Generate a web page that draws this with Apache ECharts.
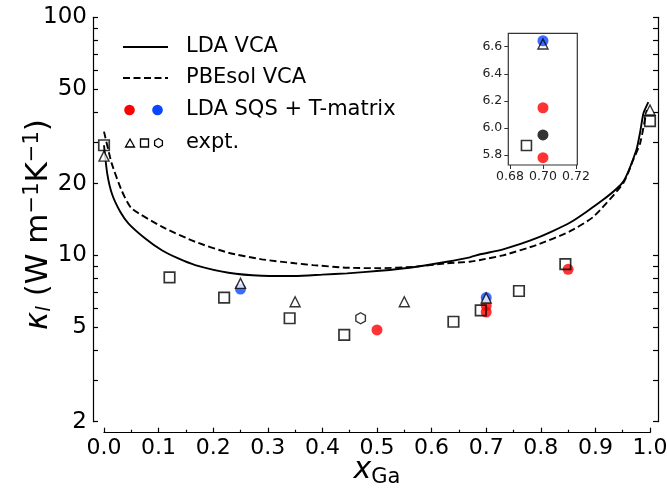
<!DOCTYPE html>
<html><head><meta charset="utf-8">
<script src="https://cdn.jsdelivr.net/npm/echarts@6/dist/echarts.min.js"></script>
<style>html,body{margin:0;padding:0;background:#fff}#c{width:667px;height:492px}</style>
</head><body><div id="c"></div>
<script>
// ---- data ----
const ldaVcaX = [0, 0.006, 0.015, 0.03, 0.045, 0.075, 0.106, 0.136, 0.167, 0.228, 0.289, 0.35, 0.40, 0.445, 0.505, 0.56, 0.628, 0.67, 0.689, 0.731, 0.792, 0.853, 0.914, 0.951, 0.975, 0.982, 0.988, 0.997];
const ldaVcaY = [29.0, 22.0, 18.0, 15.2, 13.6, 11.8, 10.5, 9.7, 9.1, 8.45, 8.21, 8.19, 8.3, 8.40, 8.61, 8.87, 9.40, 9.81, 10.1, 10.6, 11.8, 13.7, 17.1, 20.4, 27.7, 33.0, 39.5, 44.0];
const pbeVcaX = [0, 0.014, 0.032, 0.05, 0.106, 0.167, 0.228, 0.289, 0.35, 0.383, 0.445, 0.505, 0.567, 0.628, 0.67, 0.689, 0.731, 0.792, 0.853, 0.896, 0.951, 0.969, 0.982, 0.994];
const pbeVcaY = [33.1, 24.4, 18.8, 15.8, 13.2, 11.4, 10.25, 9.62, 9.26, 9.10, 8.87, 8.83, 8.95, 9.26, 9.40, 9.56, 10.0, 11.05, 12.6, 14.5, 20.1, 25.1, 29.6, 40.8];
const exptSquareX = [0.0, 0.12, 0.22, 0.34, 0.44, 0.64, 0.69, 0.76, 0.845, 1.0];
const exptSquareY = [29.0, 8.08, 6.64, 5.44, 4.63, 5.26, 5.87, 7.08, 9.19, 36.6];
const exptTriX = [0.0, 0.25, 0.35, 0.55, 0.70, 1.0];
const exptTriY = [26.1, 7.62, 6.38, 6.38, 6.62, 40.8];
const exptHexX = [0.47];
const exptHexY = [5.44];
const sqsRedX = [0.50, 0.70, 0.70, 0.85];
const sqsRedY = [4.86, 6.149, 5.78, 8.73];
const sqsBlueX = [0.25, 0.70];
const sqsBlueY = [7.22, 6.644];
const sqsBlackX = [0.70];       // shown in inset
const sqsBlackY = [5.948];
const yTickLabels = [2, 5, 10, 20, 50, 100];
const yTickMarks = [2, 3, 4, 5, 6, 7, 8, 9, 10, 20, 30, 40, 50, 60, 70, 80, 90, 100];
const insetXTicks = [0.68, 0.70, 0.72];
const insetYTicks = [5.8, 6.0, 6.2, 6.4, 6.6];

// ---- helpers ----
const zip = (xs, ys) => xs.map((x, i) => [x, ys[i]]);
const inInset = (xs, ys) => zip(xs, ys).filter(p => p[0] >= 0.679 && p[0] <= 0.7208 && p[1] >= 5.726 && p[1] <= 6.699);
const FONT = 'DejaVu Sans';
const HEX = 'path://M0,-1L0.866,-0.5L0.866,0.5L0,1L-0.866,0.5L-0.866,-0.5Z';
const RED = '#ff0000', BLUE = '#0a46ff';

const chart = echarts.init(document.getElementById('c'), null, {renderer: 'canvas'});

const tickStyle = {color: '#000', width: 1.2};
const logYDisplay = (pos, offset, labels) => ({
  type: 'value', gridIndex: 0, position: pos, offset: offset,
  min: Math.log10(yTickLabels[0]), max: Math.log10(yTickLabels[yTickLabels.length - 1]),
  axisLine: {show: true, lineStyle: {color: '#000', width: 1.2}},
  axisTick: {show: true, inside: true, length: 5, lineStyle: tickStyle, customValues: yTickMarks.map(Math.log10)},
  axisLabel: {show: labels, margin: 6, fontFamily: FONT, fontSize: 23, color: '#000',
    customValues: yTickLabels.map(Math.log10), formatter: v => String(Math.round(Math.pow(10, v)))},
  splitLine: {show: false},
  name: labels ? '{k|κ}{sub|l}{n| (W m}{sup|−1}{n|K}{sup|−1}{n|)}' : '',
  nameLocation: 'middle', nameGap: 38, nameMoveOverlap: false,
  nameTextStyle: {padding: [0, 10, 0, 0], rich: {
    k: {fontFamily: FONT, fontSize: 31, fontStyle: 'italic', color: '#000'},
    sub: {fontFamily: FONT, fontSize: 20, fontStyle: 'italic', color: '#000', verticalAlign: 'bottom', padding: [12, 0, 0, 0]},
    n: {fontFamily: FONT, fontSize: 31, color: '#000'},
    sup: {fontFamily: FONT, fontSize: 21, color: '#000', verticalAlign: 'top', padding: [0, 0, 12, 0]}
  }}
});

const option = {
  animation: false,
  backgroundColor: '#fff',
  grid: [
    {left: 104, right: 17, top: 17.3, bottom: 70.3, show: false, containLabel: false, outerBoundsMode: 'none'},
    {left: 508.3, right: 89.7, top: 33.3, bottom: 327, show: true, backgroundColor: '#fff', borderColor: '#333', borderWidth: 1.2, z: 5, containLabel: false, outerBoundsMode: 'none'}
  ],
  xAxis: [
    {type: 'value', gridIndex: 0, min: 0, max: 1, interval: 0.1, offset: 11,
     axisLine: {show: true, onZero: false, lineStyle: {color: '#000', width: 1.2}},
     axisTick: {show: true, inside: true, length: 5, lineStyle: tickStyle},
     minorTick: {show: true, splitNumber: 2, length: 3, lineStyle: tickStyle},
     axisLabel: {margin: 5, fontFamily: FONT, fontSize: 22, color: '#000', formatter: v => v.toFixed(1)},
     splitLine: {show: false},
     name: '{x|x}{sub|Ga}', nameLocation: 'middle', nameGap: 20, nameMoveOverlap: false,
     nameTextStyle: {rich: {
       x: {fontFamily: FONT, fontSize: 30, fontStyle: 'italic', color: '#000'},
       sub: {fontFamily: FONT, fontSize: 21, color: '#000', verticalAlign: 'bottom', padding: [14, 0, 0, 0]}
     }}},
    {type: 'value', gridIndex: 1, min: 0.679, max: 0.7208, z: 6,
     axisLine: {show: false},
     axisTick: {show: true, inside: false, length: 4, lineStyle: {color: '#333', width: 1}, customValues: insetXTicks},
     axisLabel: {margin: 5, fontFamily: FONT, fontSize: 12.5, color: '#222', customValues: insetXTicks, formatter: v => v.toFixed(2)},
     splitLine: {show: false}}
  ],
  yAxis: [
    {type: 'log', logBase: 10, gridIndex: 0, min: 2, max: 100, show: false},
    logYDisplay('left', 11, true),
    logYDisplay('right', 8, false),
    {type: 'value', gridIndex: 1, min: 5.726, max: 6.699, z: 6,
     axisLine: {show: false},
     axisTick: {show: true, inside: false, length: 4, lineStyle: {color: '#333', width: 1}, customValues: insetYTicks},
     axisLabel: {margin: 6, fontFamily: FONT, fontSize: 12.5, color: '#222', customValues: insetYTicks, formatter: v => v.toFixed(1)},
     splitLine: {show: false}}
  ],
  series: [
    {type: 'line', xAxisIndex: 0, yAxisIndex: 0, data: zip(ldaVcaX, ldaVcaY), showSymbol: false,
     smooth: 0.2, lineStyle: {color: '#000', width: 1.9}, z: 2},
    {type: 'line', xAxisIndex: 0, yAxisIndex: 0, data: zip(pbeVcaX, pbeVcaY), showSymbol: false,
     smooth: 0.2, lineStyle: {color: '#000', width: 1.9, type: [7, 3.5]}, z: 2},
    {type: 'scatter', xAxisIndex: 0, yAxisIndex: 0, data: zip(sqsRedX, sqsRedY), symbol: 'circle', symbolSize: 11,
     itemStyle: {color: RED}, z: 3},
    {type: 'scatter', xAxisIndex: 0, yAxisIndex: 0, data: zip(sqsBlueX, sqsBlueY), symbol: 'circle', symbolSize: 11,
     itemStyle: {color: BLUE}, z: 3},
    {type: 'scatter', xAxisIndex: 0, yAxisIndex: 0, data: zip(exptSquareX, exptSquareY), symbol: 'rect', symbolSize: 10.5,
     itemStyle: {color: 'rgba(0,0,0,0)', borderColor: '#000', borderWidth: 1.7}, z: 4},
    {type: 'scatter', xAxisIndex: 0, yAxisIndex: 0, data: zip(exptTriX, exptTriY), symbol: 'triangle', symbolSize: 10,
     itemStyle: {color: '#fff', borderColor: '#000', borderWidth: 1.4}, z: 4},
    {type: 'scatter', xAxisIndex: 0, yAxisIndex: 0, data: zip(exptHexX, exptHexY), symbol: HEX, symbolSize: 11, symbolKeepAspect: true,
     itemStyle: {color: 'rgba(0,0,0,0)', borderColor: '#000', borderWidth: 1.4}, z: 4},
    // inset
    {type: 'scatter', xAxisIndex: 1, yAxisIndex: 3, data: inInset(sqsRedX, sqsRedY), symbol: 'circle', symbolSize: 11,
     itemStyle: {color: RED}, z: 7},
    {type: 'scatter', xAxisIndex: 1, yAxisIndex: 3, data: inInset(sqsBlueX, sqsBlueY), symbol: 'circle', symbolSize: 11,
     itemStyle: {color: BLUE}, z: 7},
    {type: 'scatter', xAxisIndex: 1, yAxisIndex: 3, data: inInset(sqsBlackX, sqsBlackY), symbol: 'circle', symbolSize: 11,
     itemStyle: {color: '#000'}, z: 7},
    {type: 'scatter', xAxisIndex: 1, yAxisIndex: 3, data: inInset(exptSquareX, exptSquareY), symbol: 'rect', symbolSize: 10,
     itemStyle: {color: 'rgba(0,0,0,0)', borderColor: '#000', borderWidth: 1.6}, z: 8},
    {type: 'scatter', xAxisIndex: 1, yAxisIndex: 3, data: inInset(exptTriX, exptTriY), symbol: 'triangle', symbolSize: 10,
     itemStyle: {color: 'rgba(0,0,0,0)', borderColor: '#000', borderWidth: 1.4}, z: 8}
  ],
  graphic: [
    {type: 'line', shape: {x1: 123, y1: 47, x2: 168, y2: 47}, style: {stroke: '#000', lineWidth: 2}},
    {type: 'line', shape: {x1: 123, y1: 78, x2: 168, y2: 78}, style: {stroke: '#000', lineWidth: 2, lineDash: [7, 3.5]}},
    {type: 'circle', shape: {cx: 129.5, cy: 110, r: 5.3}, style: {fill: RED}},
    {type: 'circle', shape: {cx: 157.5, cy: 110, r: 5.3}, style: {fill: BLUE}},
    {type: 'polygon', shape: {points: [[130, 139], [125.5, 147], [134.5, 147]]}, style: {fill: '#fff', stroke: '#000', lineWidth: 1.3}},
    {type: 'rect', shape: {x: 140.5, y: 139, width: 8, height: 8}, style: {fill: '#fff', stroke: '#000', lineWidth: 1.3}},
    {type: 'polygon', shape: {points: [[158.5, 138.5], [162.4, 140.8], [162.4, 145.3], [158.5, 147.5], [154.6, 145.3], [154.6, 140.8]]}, style: {fill: '#fff', stroke: '#000', lineWidth: 1.3}},
    {type: 'text', x: 186, y: 47, style: {text: 'LDA VCA', fontFamily: FONT, fontSize: 21, fill: '#000', verticalAlign: 'middle'}},
    {type: 'text', x: 186, y: 78, style: {text: 'PBEsol VCA', fontFamily: FONT, fontSize: 21, fill: '#000', verticalAlign: 'middle'}},
    {type: 'text', x: 186, y: 110, style: {text: 'LDA SQS + T-matrix', fontFamily: FONT, fontSize: 21, fill: '#000', verticalAlign: 'middle'}},
    {type: 'text', x: 186, y: 143, style: {text: 'expt.', fontFamily: FONT, fontSize: 21, fill: '#000', verticalAlign: 'middle'}}
  ]
};
chart.setOption(option);
</script>
</body></html>
